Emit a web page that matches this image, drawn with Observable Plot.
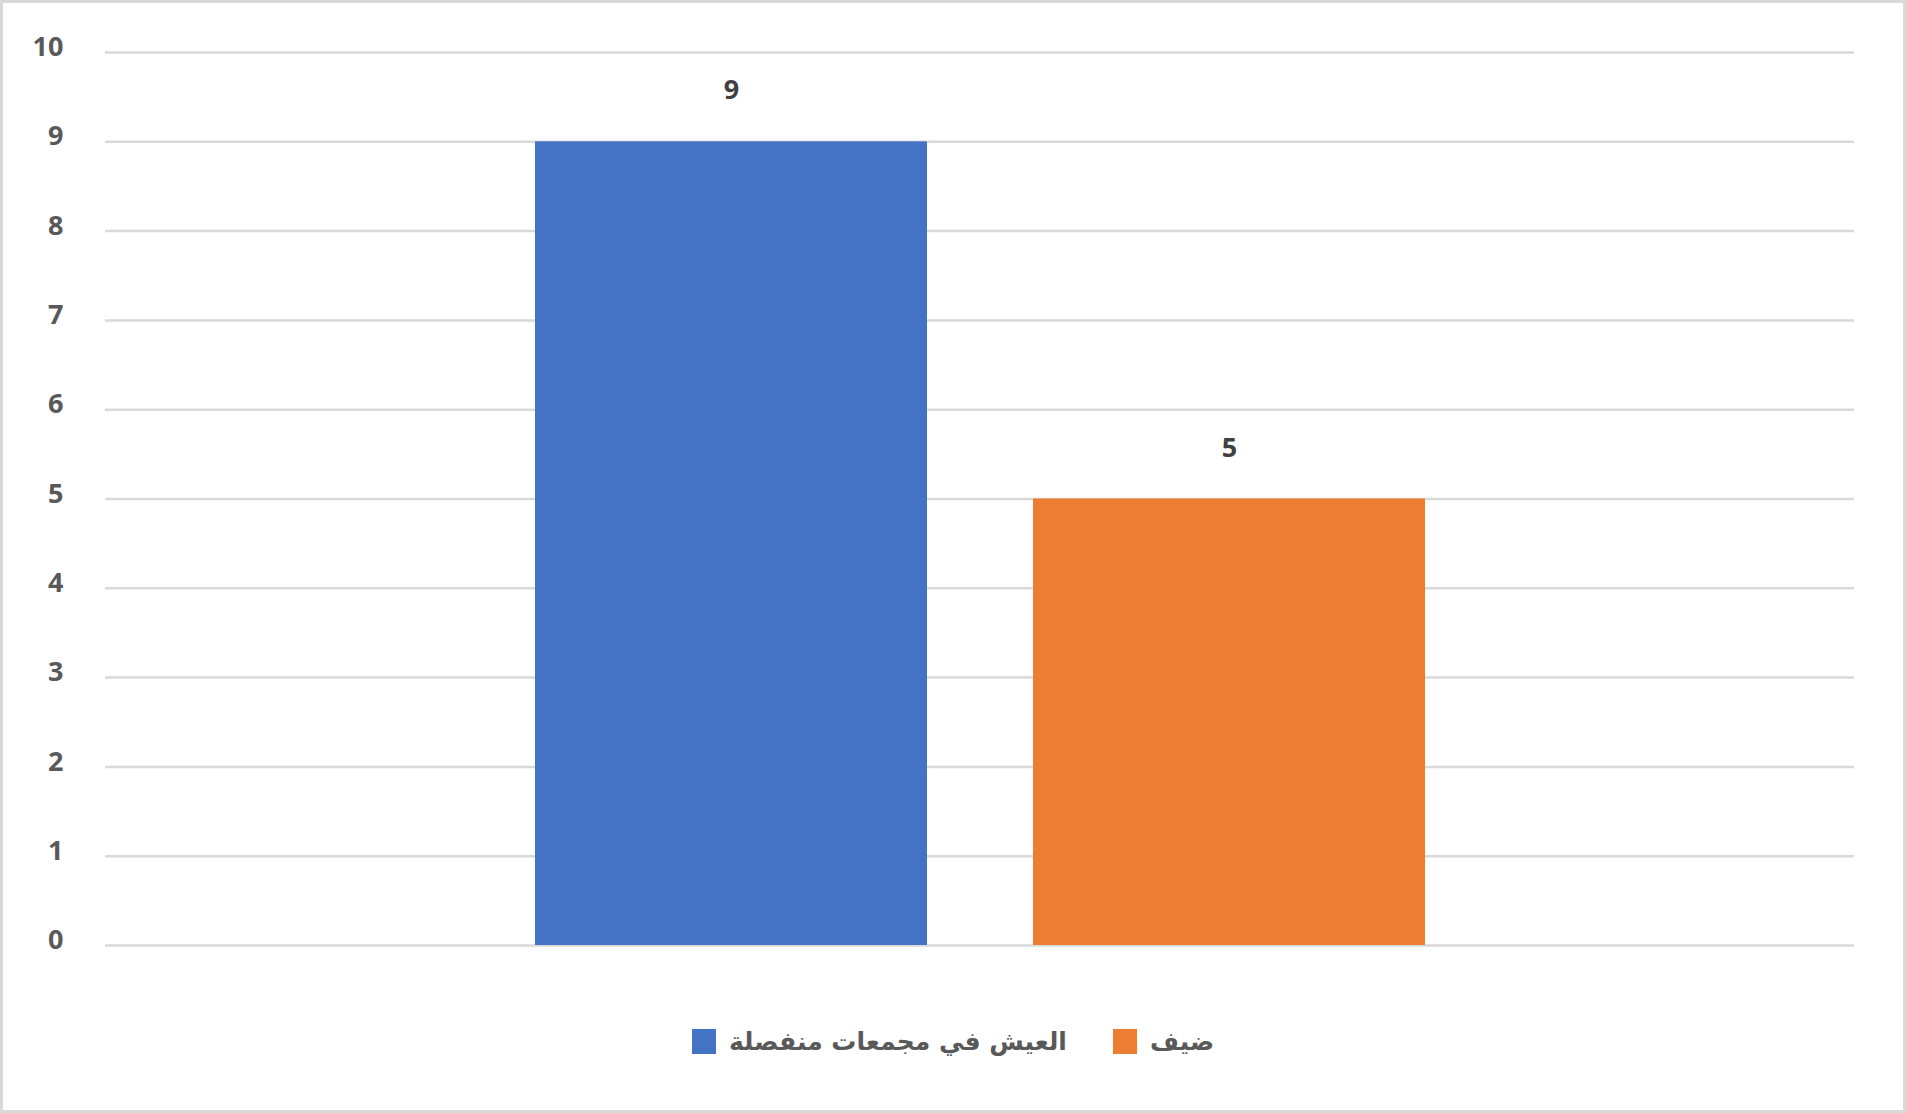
<!DOCTYPE html>
<html>
<head>
<meta charset="utf-8">
<script src="https://cdn.jsdelivr.net/npm/d3@7"></script>
<script src="https://cdn.jsdelivr.net/npm/@observablehq/plot@0.6"></script>
<style>
  html, body { margin: 0; padding: 0; background: #fff; }
  #frame {
    box-sizing: border-box; width: 1906px; height: 1113px;
    border: 3px solid #d9d9d9; background: #fff; position: relative; overflow: hidden;
  }
  #legend {
    position: absolute; left: 0; right: 0; top: 1024px;
    display: flex; justify-content: center; align-items: center;
    font-family: "DejaVu Sans", sans-serif; font-size: 25px; font-weight: bold; color: #595959;
  }
  .item { display: flex; align-items: center; margin: 0 23px; }
  .sw { width: 24px; height: 25px; margin-right: 13px; }
</style>
</head>
<body>
<div id="frame"><div id="chartbox"></div><div id="legend"></div></div>
<script>
const categories = ["العيش في مجمعات منفصلة", "ضيف"];
const values = [9, 5];
const colors = ["#4472c4", "#ed7d31"];
const yTicks = [0, 1, 2, 3, 4, 5, 6, 7, 8, 9, 10];

const data = categories.map((c, i) => ({category: c, value: values[i]}));

const chart = Plot.plot({
  width: 1900,
  height: 980,
  marginLeft: 102,
  marginRight: 49,
  marginTop: 49,
  marginBottom: 38,
  style: {background: "#fff", overflow: "visible"},
  x: {domain: categories, paddingInner: 0.213, paddingOuter: 0.8625, axis: null},
  y: {domain: [0, 10], axis: null},
  color: {domain: categories, range: colors},
  marks: [
    Plot.gridY(yTicks, {stroke: "#d9d9d9", strokeOpacity: 1, strokeWidth: 2.5}),
    Plot.barY(data, {x: "category", y: "value", fill: "category"}),
    Plot.axisY(yTicks, {tickSize: 0, tickPadding: 42, fontSize: 27, fontWeight: 700,
      fill: "#595959", fontFamily: "Open Sans, sans-serif", textAnchor: "end", dy: -5,
      tickFormat: d => String(d), label: null}),
    Plot.text(data, {x: "category", y: "value", text: d => String(d.value), dy: -51,
      fontSize: 27, fontWeight: 700, fill: "#404040", fontFamily: "Open Sans, sans-serif"})
  ]
});
document.getElementById("chartbox").appendChild(chart);

const legend = document.getElementById("legend");
categories.forEach((c, i) => {
  const item = document.createElement("div");
  item.className = "item";
  const sw = document.createElement("div");
  sw.className = "sw";
  sw.style.background = colors[i];
  const lab = document.createElement("span");
  lab.textContent = c;
  lab.dir = "rtl";
  item.appendChild(sw);
  item.appendChild(lab);
  legend.appendChild(item);
});
</script>
</body>
</html>
